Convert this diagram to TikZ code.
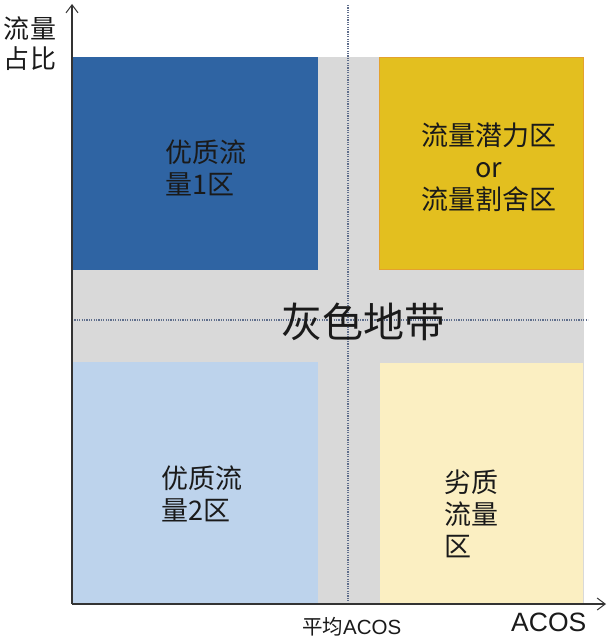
\documentclass[tikz,border=0pt]{standalone}
\usepackage{fontspec}
\setmainfont{Noto Sans CJK SC}
\newfontfamily\latfont{Liberation Sans}
\usetikzlibrary{arrows.meta}
\definecolor{darkblue}{HTML}{2F64A3}
\definecolor{goldy}{HTML}{E3BF1F}
\definecolor{goldborder}{HTML}{E4A12E}
\definecolor{lightblue}{HTML}{BDD3EC}
\definecolor{lightyellow}{HTML}{FBEFC2}
\definecolor{bandgray}{HTML}{D9D9D9}
\definecolor{dotcol}{HTML}{5F6E8C}
\definecolor{axiscol}{HTML}{333333}
\definecolor{txt}{HTML}{1A1A1A}
\tikzset{
  quad/.style={draw=none},
  quadtext/.style={text=txt, align=left, inner sep=0pt, font=\fontsize{27}{32}\selectfont},
  avgline/.style={dotcol, line width=1.2pt, dash pattern=on 1.2pt off 1.2pt},
  axisline/.style={axiscol, line width=1.1pt, -{Straight Barb[length=8pt,width=12pt,line width=1pt]}}
}
\begin{document}
\begin{tikzpicture}[x=1pt,y=-1pt]
\useasboundingbox (0,0) rectangle (611,642);
\fill[white] (0,0) rectangle (611,642);
% gray band
\fill[bandgray] (72,57) rectangle (584,604);
% quadrants
\fill[darkblue] (73,57) rectangle (318,270);
\filldraw[fill=goldy, draw=goldborder, line width=1pt] (379.5,57.5) rectangle (583.5,269.5);
\fill[lightblue] (73,362) rectangle (318,603);
\fill[lightyellow] (380,363) rectangle (583,603);
% coordinates for axes and lines
\coordinate (O) at (72,604);
\coordinate (ytop) at (72,4);
\coordinate (xend) at (606,604);
\coordinate (vtop) at (348,5);
\coordinate (vbot) at (348,603);
\coordinate (hl) at (72,320);
\coordinate (hr) at (588,320);
% dotted average lines
\draw[avgline] (vtop) -- (vbot);
\draw[avgline] (hl) -- (hr);
% axes
\draw[axisline] (O) -- (ytop);
\draw[axisline] (O) -- (xend);
% texts
\node[quadtext] (q1) at (206,167.5) {优质流\\量1区};
\node[quadtext, align=center] (q2) at (489,167) {流量潜力区\\or\\流量割舍区};
\node[quadtext] (q3) at (202,494) {优质流\\量2区};
\node[quadtext] (q4) at (471,514) {劣质\\流量\\区};
\node[text=txt, inner sep=0pt, font=\fontsize{41}{48}\selectfont] (gray) at (363,322) {灰色地带};
\node[text=txt, align=left, inner sep=0pt, font=\fontsize{26}{30}\selectfont] (ylab) at (30,44) {流量\\占比};
\node[text=txt, inner sep=0pt, anchor=west, font=\fontsize{20.5}{24}\selectfont] (xavg) at (302,627) {平均{\latfont ACOS}};
\node[text=txt, inner sep=0pt, anchor=west, font=\latfont\fontsize{26.5}{30}\selectfont] (xlab) at (511,622) {ACOS};
\end{tikzpicture}
\end{document}
